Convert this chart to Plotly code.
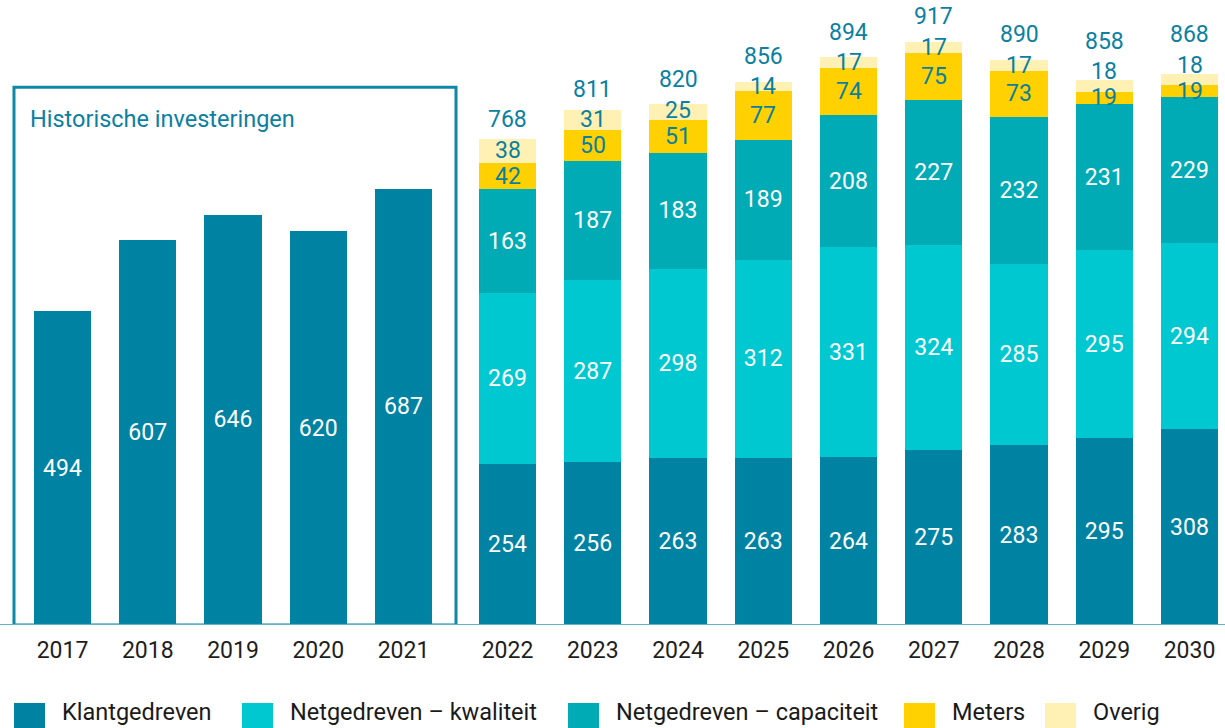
import plotly.graph_objects as go

years = [2017, 2018, 2019, 2020, 2021, 2022, 2023, 2024, 2025, 2026, 2027, 2028, 2029, 2030]
klantgedreven = [494, 607, 646, 620, 687, 254, 256, 263, 263, 264, 275, 283, 295, 308]
kwaliteit = [None, None, None, None, None, 269, 287, 298, 312, 331, 324, 285, 295, 294]
capaciteit = [None, None, None, None, None, 163, 187, 183, 189, 208, 227, 232, 231, 229]
meters = [None, None, None, None, None, 42, 50, 51, 77, 74, 75, 73, 19, 19]
overig = [None, None, None, None, None, 38, 31, 25, 14, 17, 17, 17, 18, 18]
totals = [None, None, None, None, None, 768, 811, 820, 856, 894, 917, 890, 858, 868]
series_names = ["Klantgedreven", "Netgedreven – kwaliteit", "Netgedreven – capaciteit", "Meters", "Overig"]
hist_title = "Historische investeringen"

colors = ["#0083a3", "#00c8d1", "#00abb5", "#ffd100", "#fff1b3"]
text_colors = ["white", "white", "white", "#0b7fa0", "#0b7fa0"]
TEAL = "#0b80a1"
FONT = "Roboto, Arial, sans-serif"
FS = 23
PX_PER_UNIT = 0.635
SEP = 26 / PX_PER_UNIT  # minimum label spacing in data units

GAP = 0.22
xs = [i + (GAP if y >= 2022 else 0) for i, y in enumerate(years)]

all_series = [klantgedreven, kwaliteit, capaciteit, meters, overig]
fig = go.Figure()
for k, (name, vals, c, tc) in enumerate(zip(series_names, all_series, colors, text_colors)):
    show_text = k < 3
    fig.add_trace(go.Bar(
        x=xs, y=vals, name=name, marker=dict(color=c, line=dict(width=0)),
        width=0.67,
        text=[str(v) if (v is not None and show_text) else "" for v in vals],
        textposition="inside", insidetextanchor="middle", textangle=0,
        insidetextfont=dict(color=tc, size=FS, family=FONT),
        showlegend=False, hoverinfo="skip",
    ))

annotations = []
for i, t in enumerate(totals):
    if t is None:
        continue
    base_m = klantgedreven[i] + kwaliteit[i] + capaciteit[i]
    y_m = base_m + meters[i] / 2
    base_o = base_m + meters[i]
    mid_o = base_o + overig[i] / 2
    top = base_o + overig[i]
    y_o = max(mid_o, y_m + SEP)
    annotations.append(dict(x=xs[i], y=y_m, xref="x", yref="y", text=str(meters[i]), showarrow=False,
                            yanchor="middle", font=dict(color=text_colors[3], size=FS, family=FONT)))
    annotations.append(dict(x=xs[i], y=y_o, xref="x", yref="y", text=str(overig[i]), showarrow=False,
                            yanchor="middle", font=dict(color=text_colors[4], size=FS, family=FONT)))
    y_t = max(top, y_o + SEP / 2)
    annotations.append(dict(x=xs[i], y=y_t, xref="x", yref="y", text=str(t), showarrow=False,
                            yanchor="bottom", yshift=2, font=dict(color=TEAL, size=FS, family=FONT)))

# historical title
annotations.append(dict(x=28 / 1225, y=(625 - 119) / 625, xref="paper", yref="paper", text=hist_title,
                        showarrow=False, xanchor="left", yanchor="middle",
                        font=dict(color=TEAL, size=FS + 0.5, family=FONT)))

# custom legend
sw_x = [14, 242, 568, 904, 1045]
shapes = []
for name, c, sx in zip(series_names, colors, sw_x):
    shapes.append(dict(type="rect", xref="paper", yref="paper",
                       x0=sx / 1225, x1=(sx + 31) / 1225,
                       y0=-(728 - 625) / 625, y1=-(703 - 625) / 625,
                       fillcolor=c, line=dict(width=0)))
    annotations.append(dict(x=(sx + 46) / 1225, y=-(712 - 625) / 625, xref="paper", yref="paper",
                            text=name, showarrow=False, xanchor="left", yanchor="middle",
                            font=dict(color="#1a1a1a", size=FS + 0.5, family=FONT)))

# historical box
shapes.append(dict(type="rect", xref="x", yref="y", x0=-0.569, x1=4.616, y0=0, y1=847,
                   line=dict(color="#0f87a6", width=3), fillcolor="rgba(0,0,0,0)", layer="above"))
# baseline
shapes.append(dict(type="line", xref="paper", yref="y", x0=0, x1=1, y0=0, y1=0,
                   line=dict(color="#5fb4c7", width=2), layer="above"))

fig.update_layout(
    width=1225, height=728, margin=dict(l=0, r=0, t=0, b=103),
    barmode="stack", plot_bgcolor="white", paper_bgcolor="white",
    uniformtext=dict(minsize=FS, mode="show"),
    xaxis=dict(range=[-62.5 / 85.25, (1225 - 62.5) / 85.25], tickvals=xs, ticktext=[str(y) for y in years],
               tickfont=dict(size=FS, color="#1e1e1e", family=FONT), showgrid=False, zeroline=False,
               showline=False, ticks="", ticklabelstandoff=9, fixedrange=True),
    yaxis=dict(range=[0, 625 / PX_PER_UNIT], visible=False, fixedrange=True),
    annotations=annotations, shapes=shapes, showlegend=False,
)

fig.write_html("out.html")
